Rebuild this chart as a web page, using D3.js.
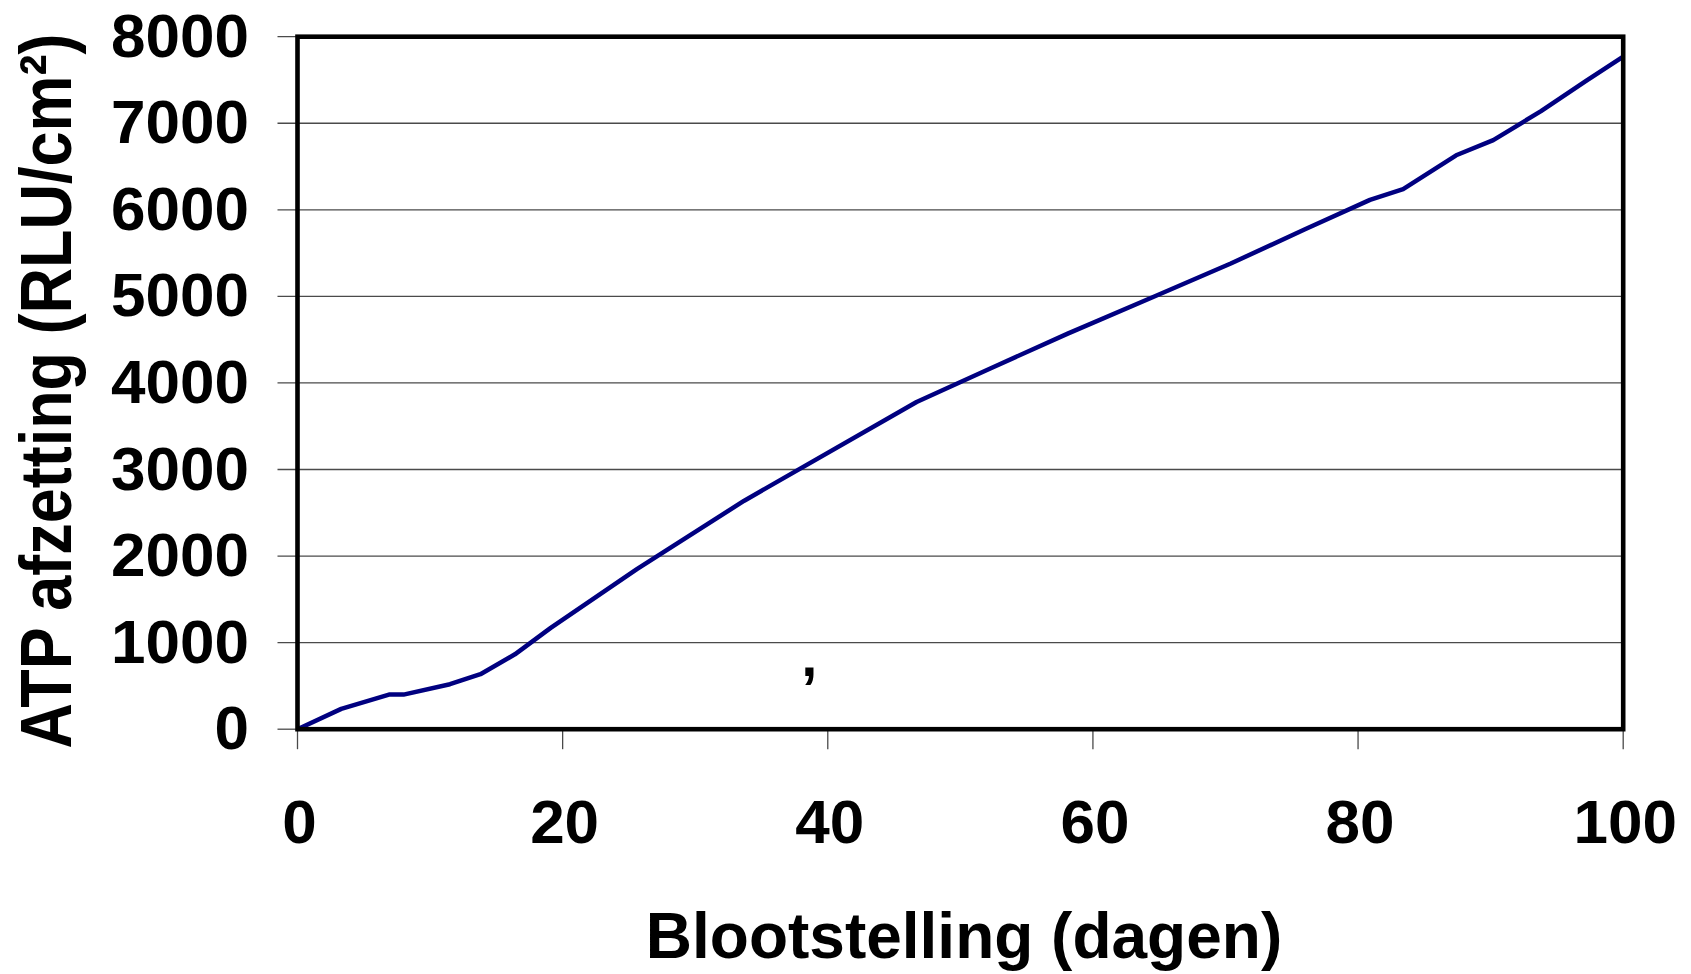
<!DOCTYPE html>
<html lang="nl">
<head>
    <meta charset="UTF-8">
    <title>ATP afzetting</title>
    <script src="https://cdn.jsdelivr.net/npm/d3@7"></script>
    <style>
        body { margin: 0; background: #fff; }
        svg text {
            font-family: "Liberation Sans", Arial, sans-serif;
            font-weight: bold;
            fill: #000;
        }
        .grid line { stroke: #4a4a4a; stroke-width: 1.3px; }
        .tick-mark { stroke: #4a4a4a; stroke-width: 1.3px; }
        .series { fill: none; stroke: #000080; stroke-width: 4.5px; stroke-linejoin: round; }
        .frame { fill: none; stroke: #000; stroke-width: 4.6px; }
    </style>
</head>
<body>
<svg width="1691" height="974"></svg>
<script>
    // Data
    const days = [0, 3.3, 6.9, 8.0, 11.5, 13.8, 16.4, 19.1, 25.6, 33.7, 46.7, 52.3, 58.1, 64.5, 70.4, 76.0, 80.9, 83.4, 87.4, 90.2, 93.8, 97.2, 100];
    const atp = [0, 235, 400, 400, 520, 635, 865, 1170, 1850, 2640, 3780, 4170, 4570, 4990, 5380, 5775, 6115, 6240, 6630, 6805, 7140, 7490, 7770];
    const xTicks = [0, 20, 40, 60, 80, 100];
    const yTicks = [0, 1000, 2000, 3000, 4000, 5000, 6000, 7000, 8000];
    const xTitle = "Blootstelling (dagen)";
    const yTitle = "ATP afzetting (RLU/cm\u00B2)";

    const svg = d3.select("svg");

    // plot area
    const plotLeft = 297.5, plotRight = 1623.2, plotTop = 36.7, plotBottom = 729.2;

    const x = d3.scaleLinear().domain([0, 100]).range([plotLeft, plotRight]);
    const y = d3.scaleLinear().domain([0, 8000]).range([plotBottom, plotTop]);

    // gridlines + left ticks
    svg.append("g")
        .attr("class", "grid")
        .selectAll("line")
        .data(yTicks.filter(d => d > 0))
        .enter().append("line")
        .attr("x1", plotLeft - 20)
        .attr("x2", plotRight)
        .attr("y1", d => y(d))
        .attr("y2", d => y(d));

    svg.append("line")
        .attr("class", "tick-mark")
        .attr("x1", plotLeft - 20).attr("x2", plotLeft)
        .attr("y1", y(0)).attr("y2", y(0));

    // bottom ticks
    svg.append("g")
        .selectAll("line")
        .data(xTicks)
        .enter().append("line")
        .attr("class", "tick-mark")
        .attr("x1", d => x(d)).attr("x2", d => x(d))
        .attr("y1", plotBottom).attr("y2", plotBottom + 20);

    // series
    const line = d3.line()
        .x((d, i) => x(days[i]))
        .y(d => y(d));

    svg.append("path")
        .datum(atp)
        .attr("class", "series")
        .attr("d", line);

    // frame
    svg.append("rect")
        .attr("class", "frame")
        .attr("x", plotLeft).attr("y", plotTop)
        .attr("width", plotRight - plotLeft).attr("height", plotBottom - plotTop);

    // y tick labels
    svg.append("g")
        .selectAll("text")
        .data(yTicks)
        .enter().append("text")
        .attr("x", 249)
        .attr("y", d => y(d) + 20)
        .attr("text-anchor", "end")
        .style("font-size", "62px")
        .text(d => d);

    // x tick labels
    svg.append("g")
        .selectAll("text")
        .data(xTicks)
        .enter().append("text")
        .attr("x", d => x(d) + 2)
        .attr("y", 843)
        .attr("text-anchor", "middle")
        .style("font-size", "62px")
        .text(d => d);

    // stray comma in the original
    svg.append("text")
        .attr("x", x(38.6))
        .attr("y", y(620))
        .attr("text-anchor", "middle")
        .style("font-size", "58px")
        .text(",");

    // axis titles
    svg.append("text")
        .attr("x", 964)
        .attr("y", 958)
        .attr("text-anchor", "middle")
        .style("font-size", "64px")
        .text(xTitle);

    svg.append("text")
        .attr("transform", "translate(71,391) rotate(-90) scale(1,1.15)")
        .attr("text-anchor", "middle")
        .style("font-size", "63px")
        .text(yTitle);
</script>
</body>
</html>
